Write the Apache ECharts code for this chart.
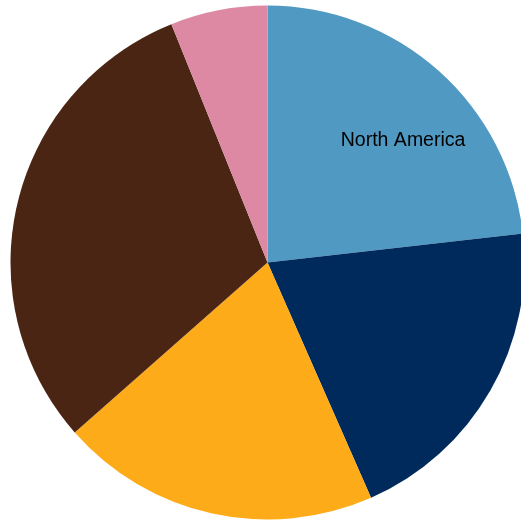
<!DOCTYPE html>
<html>
<head>
    <meta charset='utf-8'>
    <script src="https://cdn.jsdelivr.net/npm/echarts@6/dist/echarts.min.js"></script>
</head>
<body>
<style>
    html, body, #main {
        width: 100%;
        height: 100%;
        margin: 0;
        padding: 0;
        background: #fff;
    }
</style>
<div id="main"></div>
<script>
    // slices clockwise from 12 o'clock; only the first one carries a visible label
    var names = ['North America', 'Europe', 'Asia', 'Latin America', 'Africa'];
    var values = [23.2, 20.2, 20.1, 30.4, 6.1];
    var colors = ['#5099c2', '#002a5c', '#fdab18', '#4a2514', '#dd89a4'];

    var chart = echarts.init(document.getElementById('main'));

    var data = names.map(function (n, i) {
        return {
            name: n,
            value: values[i],
            itemStyle: {color: colors[i]},
            label: {show: i === 0}
        };
    });

    chart.setOption({
        animation: false,
        series: [{
            type: 'pie',
            center: [267.5, 262.5],
            radius: 257,
            startAngle: 90,
            clockwise: true,
            avoidLabelOverlap: false,
            silent: true,
            label: {
                position: 'inside',
                color: '#000',
                fontFamily: 'Liberation Sans',
                fontSize: 19.5,
                formatter: '{b}'
            },
            labelLine: {show: false},
            labelLayout: function (params) {
                if (params.dataIndex === 0) {
                    return {dx: 48, dy: -24};
                }
                return {};
            },
            itemStyle: {borderWidth: 0},
            emphasis: {disabled: true},
            data: data
        }]
    });
</script>
</body>
</html>
